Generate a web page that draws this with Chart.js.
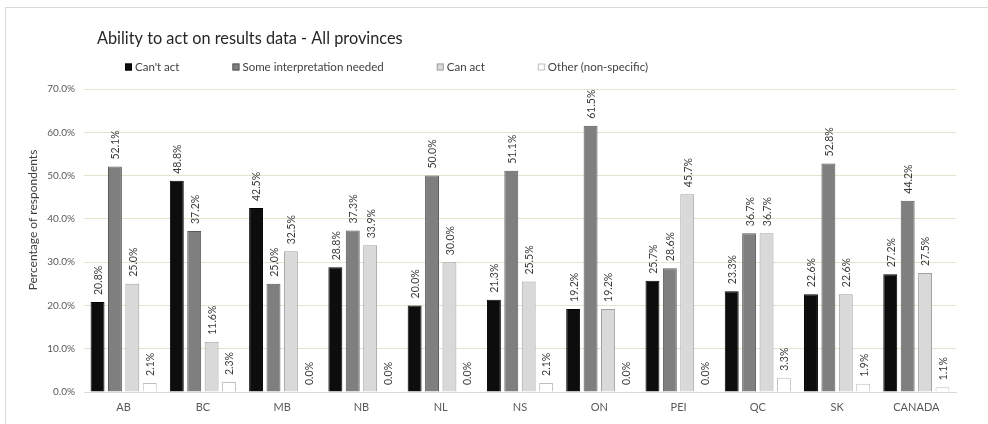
<!DOCTYPE html>
<html>
<head>
<meta charset="utf-8">
<title>Ability to act on results data - All provinces</title>
<script src="https://cdn.jsdelivr.net/npm/chart.js@4.4.0/dist/chart.umd.min.js"></script>
<style>
  html, body { margin: 0; padding: 0; background: #ffffff; overflow: hidden; }
  #wrap { position: relative; width: 988px; height: 424px; }
  #frame { position: absolute; left: 5px; top: 7px; width: 1000px; height: 500px;
           border: 1px solid #d9d9d9; box-sizing: border-box; }
  #c { position: absolute; left: 0; top: 0; }
</style>
</head>
<body>
<div id="wrap">
  <div id="frame"></div>
  <canvas id="c" width="988" height="424"></canvas>
</div>
<script>
// Survey results by province (percentage of respondents)
const provinces = ['AB', 'BC', 'MB', 'NB', 'NL', 'NS', 'ON', 'PEI', 'QC', 'SK', 'CANADA'];
const cantAct        = [20.8, 48.8, 42.5, 28.8, 20.0, 21.3, 19.2, 25.7, 23.3, 22.6, 27.2];
const someInterp     = [52.1, 37.2, 25.0, 37.3, 50.0, 51.1, 61.5, 28.6, 36.7, 52.8, 44.2];
const canAct         = [25.0, 11.6, 32.5, 33.9, 30.0, 25.5, 19.2, 45.7, 36.7, 22.6, 27.5];
const otherNonSpec   = [2.1, 2.3, 0.0, 0.0, 0.0, 2.1, 0.0, 0.0, 3.3, 1.9, 1.1];
const seriesNames    = ["Can't act", 'Some interpretation needed', 'Can act', 'Other (non-specific)'];
const yTickValues    = [0, 10, 20, 30, 40, 50, 60, 70];
const chartTitle     = 'Ability to act on results data - All provinces';
const yAxisTitle     = 'Percentage of respondents';

const FONT = 'Lato, "Open Sans", sans-serif';
const fills   = ['#0d0d0d', '#7f7f7f', '#d9d9d9', '#ffffff'];
const borders = ['#000000', '#5a5a5a', '#a0a0a0', '#bfbfbf'];

// Rotated value labels above every bar
const barValueLabels = {
  id: 'barValueLabels',
  afterDatasetsDraw(chart) {
    const ctx = chart.ctx;
    ctx.save();
    ctx.font = '10.5px ' + FONT;
    ctx.fillStyle = '#3a3a3a';
    ctx.textAlign = 'left';
    ctx.textBaseline = 'middle';
    chart.data.datasets.forEach((ds, i) => {
      chart.getDatasetMeta(i).data.forEach((bar, j) => {
        const v = ds.data[j];
        ctx.save();
        ctx.translate(bar.x + 1, bar.y - 7);
        ctx.rotate(-Math.PI / 2);
        ctx.fillText(v.toFixed(1) + '%', 0, 0);
        ctx.restore();
      });
    });
    ctx.restore();
  }
};

// Title, legend row and vertical axis title
const headerAndLegend = {
  id: 'headerAndLegend',
  afterDraw(chart) {
    const ctx = chart.ctx;
    ctx.save();
    // title
    ctx.font = '16.3px ' + FONT;
    ctx.fillStyle = '#262626';
    ctx.textAlign = 'left';
    ctx.textBaseline = 'alphabetic';
    ctx.fillText(chartTitle, 97, 44);

    // legend
    ctx.font = '11.5px ' + FONT;
    ctx.textBaseline = 'middle';
    let x = 125;
    const yMid = 67, box = 7, gap = 53;
    chart.data.datasets.forEach((ds) => {
      ctx.fillStyle = ds.backgroundColor;
      ctx.fillRect(x, yMid - box / 2, box, box);
      ctx.strokeStyle = ds.borderColor;
      ctx.lineWidth = 1;
      ctx.strokeRect(x + 0.5, yMid - box / 2 + 0.5, box - 1, box - 1);
      ctx.fillStyle = '#404040';
      ctx.fillText(ds.label, x + box + 3, yMid);
      x += box + 3 + ctx.measureText(ds.label).width + gap;
    });

    // y axis title
    ctx.font = '12px ' + FONT;
    ctx.fillStyle = '#404040';
    ctx.textAlign = 'center';
    ctx.translate(33, 220);
    ctx.rotate(-Math.PI / 2);
    ctx.fillText(yAxisTitle, 0, 0);
    ctx.restore();
  }
};

const seriesData = [cantAct, someInterp, canAct, otherNonSpec];

new Chart(document.getElementById('c'), {
  type: 'bar',
  data: {
    labels: provinces,
    datasets: seriesData.map((d, i) => ({
      label: seriesNames[i],
      data: d,
      backgroundColor: fills[i],
      borderColor: borders[i],
      borderWidth: 1,
      categoryPercentage: 0.878,
      barPercentage: 0.8
    }))
  },
  options: {
    responsive: false,
    animation: false,
    devicePixelRatio: 1,
    layout: { padding: { top: 89, right: 32, bottom: 0, left: 0 } },
    plugins: {
      legend: { display: false },
      title: { display: false },
      tooltip: { enabled: false }
    },
    scales: {
      x: {
        grid: { display: false, drawTicks: false },
        border: { display: true, color: '#d9d9d9', width: 1 },
        ticks: { color: '#595959', font: { family: FONT, size: 11 }, padding: 9 },
        afterFit(scale) { scale.height = 32; }
      },
      y: {
        min: 0,
        max: 70,
        afterBuildTicks(scale) { scale.ticks = yTickValues.map(v => ({ value: v })); },
        grid: {
          drawTicks: false,
          color: (c) => (c.tick && c.tick.value === 0) ? 'rgba(0,0,0,0)' : '#e6e3cc',
          lineWidth: 1
        },
        border: { display: false },
        ticks: {
          color: '#595959',
          font: { family: FONT, size: 10 },
          padding: 9,
          callback: (v) => Number(v).toFixed(1) + '%'
        },
        afterFit(scale) { scale.width = 84; }
      }
    }
  },
  plugins: [barValueLabels, headerAndLegend]
});
</script>
</body>
</html>
